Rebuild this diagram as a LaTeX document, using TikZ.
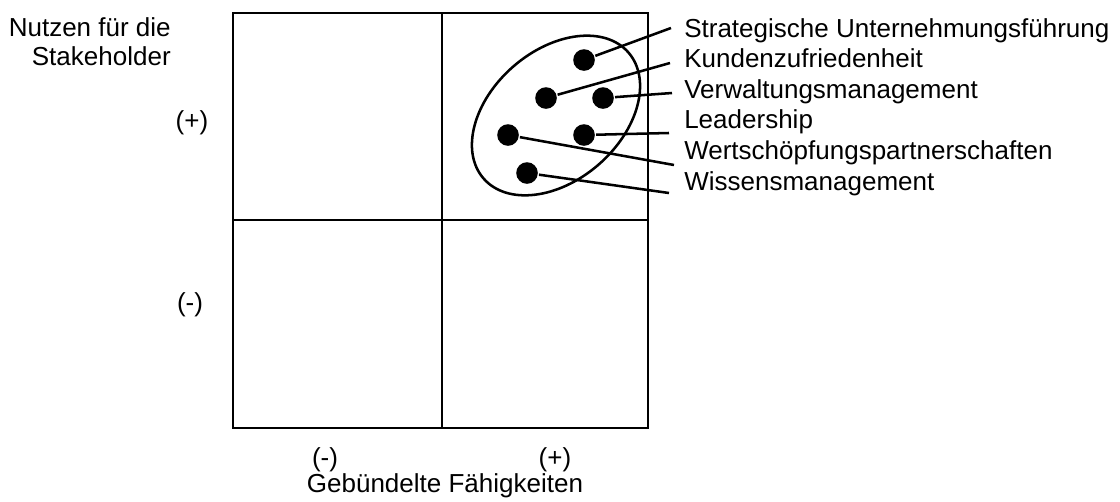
\documentclass[tikz,border=0pt]{standalone}
\usepackage{fontspec}
\setmainfont{Liberation Sans}
\usepackage{tikz}

\begin{document}
\begin{tikzpicture}[x=0.025cm, y=-0.025cm, line width=1.8pt,
  dot/.style={circle, fill, inner sep=0pt, minimum size=0.54cm},
  lbl/.style={inner sep=0pt, font=\fontsize{18.5pt}{20pt}\selectfont}]
\useasboundingbox (0,0) rectangle (1120,501);

% Matrix
\draw (233,13) rectangle (648,428);
\draw (442,13) -- (442,428);
\draw (233,220) -- (648,220);

% Achsen
\node (y) at (172,65) [lbl, anchor=base east, align=right] {Nutzen für die\\Stakeholder};
\node (yp) at (192,123) [lbl] {(+)};
\node (ym) at (190,305) [lbl] {(-)};
\node (xm) at (325,460) [lbl] {(-)};
\node (xp) at (555,460) [lbl] {(+)};
\node (x) at (445,492) [lbl, anchor=base] {Gebündelte Fähigkeiten};

% Cluster
\draw[rotate around={41:(556,115.5)}] (556,115.5) ellipse [x radius=96, y radius=65];

\node (sf-t) at (683,37) [lbl, anchor=base west] {Strategische Unternehmungsführung};
\node (kz-t) at (683,67.6) [lbl, anchor=base west] {Kundenzufriedenheit};
\node (vm-t) at (683,98.2) [lbl, anchor=base west] {Verwaltungsmanagement};
\node (ls-t) at (683,128.8) [lbl, anchor=base west] {Leadership};
\node (wp-t) at (683,159.4) [lbl, anchor=base west] {Wertschöpfungspartnerschaften};
\node (wm-t) at (683,190) [lbl, anchor=base west] {Wissensmanagement};

\coordinate (sf-e) at (671,28);
\coordinate (kz-e) at (670,63);
\coordinate (vm-e) at (672,93);
\coordinate (ls-e) at (669,133);
\coordinate (wp-e) at (674,165);
\coordinate (wm-e) at (669,193);

\node (sf) at (584,60) [dot] {}   edge[-] (sf-e);
\node (kz) at (546,98) [dot] {}   edge[-] (kz-e);
\node (vm) at (603,98) [dot] {}   edge[-] (vm-e);
\node (ls) at (584,135) [dot] {}  edge[-] (ls-e);
\node (wp) at (508,135) [dot] {}  edge[-] (wp-e);
\node (wm) at (527,173) [dot] {}  edge[-] (wm-e);
\end{tikzpicture}
\end{document}
